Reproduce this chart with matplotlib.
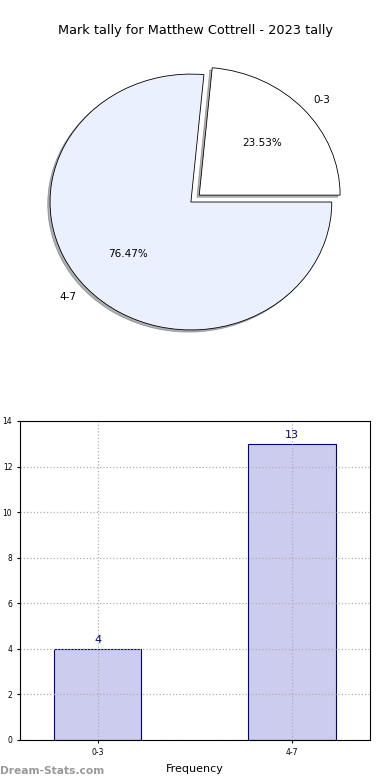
import matplotlib
matplotlib.use("Agg")
import matplotlib.pyplot as plt

categories = ["0-3", "4-7"]
counts = [4, 13]
pie_colors = ["#ffffff", "#eaf0fd"]
title = "Mark tally for Matthew Cottrell - 2023 tally"

fig = plt.figure(figsize=(3.9, 7.8), dpi=100)

# pie
ax1 = fig.add_axes([0.038, 0.536, 0.903, 0.41])
wedges, texts, autotexts = ax1.pie(
    counts, labels=categories, colors=pie_colors, explode=[0.08, 0],
    autopct="%1.2f%%", startangle=0, labeldistance=1.1,
    shadow={"ox": -0.012, "oy": -0.012, "shade": 0.6},
    wedgeprops={"edgecolor": "black", "linewidth": 0.6},
    textprops={"fontsize": 7.5},
)
ax1.set_aspect("auto")
ax1.set_xlim(-1.25, 1.25)
ax1.set_ylim(-1.25, 1.25)
fig.text(0.5, 0.961, title, ha="center", va="center", fontsize=9.3)

# bars
ax2 = fig.add_axes([0.051, 0.0513, 0.897, 0.409])
x = range(len(categories))
ax2.bar(x, counts, width=0.45, color="#ccccee", edgecolor="navy", linewidth=0.8, zorder=1)
for i, v in zip(x, counts):
    ax2.text(i, v + 0.15, str(v), ha="center", va="bottom", color="navy", fontsize=8)
ax2.set_xlim(-0.4, 1.4)
ax2.set_ylim(0, 14)
ax2.set_xticks(list(x))
ax2.set_xticklabels(categories)
ax2.set_yticks(range(0, 15, 2))
ax2.tick_params(labelsize=5.5, length=2)
ax2.set_axisbelow(False)
ax2.grid(True, linestyle=":", color="#b0b0b0", linewidth=0.9)
for s in ax2.spines.values():
    s.set_zorder(4)
ax2.set_xlabel("Frequency", fontsize=8, labelpad=5)
ax2.set_ylabel("Dismissals", fontsize=7)
ax2.yaxis.set_label_coords(-0.058, 0.5)

fig.text(0.0, 0.012, "Dream-Stats.com", color="#999999", fontsize=7.7,
         fontweight="bold", ha="left", va="center")

fig.savefig("out.png", dpi=100)
